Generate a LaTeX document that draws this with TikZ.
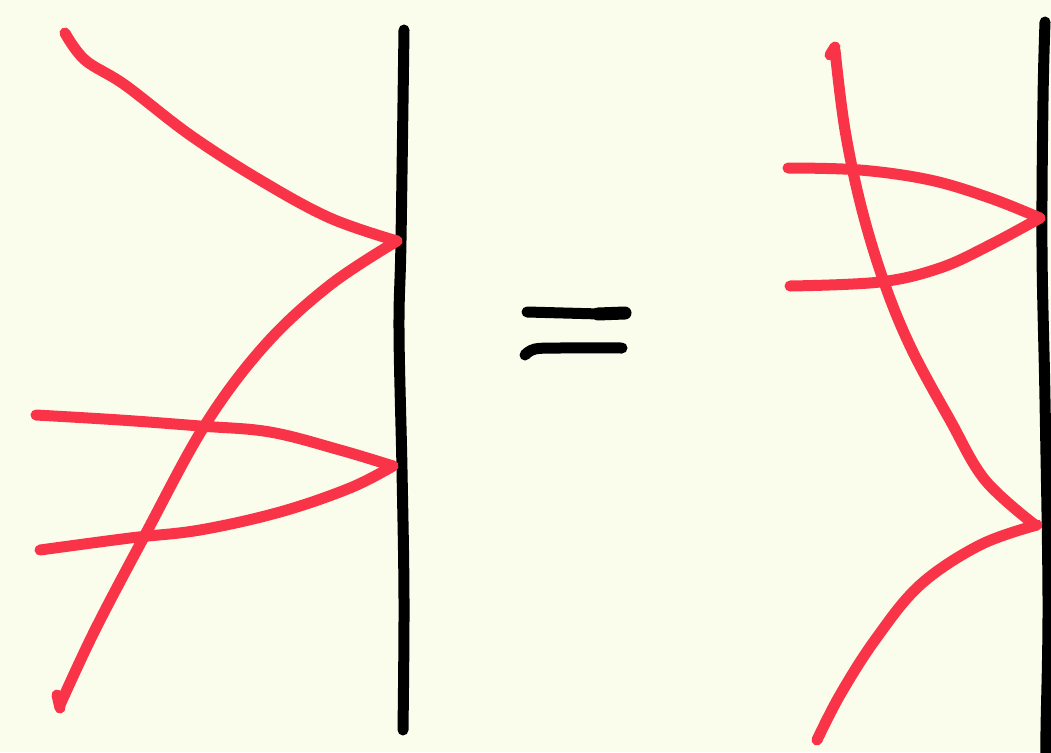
\documentclass[tikz,border=0pt]{standalone}
\usetikzlibrary{calc}
\definecolor{bg}{RGB}{250,253,235}
\definecolor{ink}{RGB}{250,52,72}
\tikzset{
  redline/.style={draw=ink,line width=11pt,line cap=round,line join=round},
  blackline/.style={draw=black,line width=11pt,line cap=round,line join=round},
}
\begin{document}
\begin{tikzpicture}[x=1pt,y=-1pt]
\fill[bg] (0,0) rectangle (1051,752);
\useasboundingbox (0,0) rectangle (1051,752);
% left wall
\draw[blackline] plot[smooth,tension=0.6] coordinates {(404,30) (401,240) (399,330) (402,470) (404,600) (403,730)};
\coordinate (j1) at (397,241);
\coordinate (j2) at (393,466);
\draw[redline] plot[smooth,tension=0.6] coordinates {(65,33) (85,60) (125,85) (190,135) (260,180) (330,218) (397,241)};
\draw[redline] plot[smooth,tension=0.6] coordinates {(397,241) (330,285) (265,345) (205,425) (145,535) (95,630) (60,705)};
\draw[redline] (57,695) -- (60,708);
\draw[redline] plot[smooth,tension=0.6] coordinates {(36,415) (120,420) (200,426) (270,432) (340,450) (393,466)};
\draw[redline] plot[smooth,tension=0.6] coordinates {(393,466) (350,488) (280,512) (200,530) (130,538) (40,550)};
% equals
\draw[blackline] (527,312) -- (600,314);
\draw[blackline,line width=13pt] (598,314) -- (625,313);
\draw[blackline] plot[smooth,tension=0.6] coordinates {(525,355) (535,349) (560,348) (622,348)};
% right wall
\draw[blackline] plot[smooth,tension=0.6] coordinates {(1045,22) (1043,100) (1042,250) (1045,400) (1048,600) (1046,730) (1046,760)};
\draw[redline] (830,55) -- (835,47);
\draw[redline] plot[smooth,tension=0.6] coordinates {(835,50) (845,130) (862,210) (885,285) (912,350) (950,420) (985,480) (1035,525)};
\draw[redline] plot[smooth,tension=0.6] coordinates {(1037,525) (980,545) (920,585) (875,640) (840,695) (817,740)};
\draw[redline] plot[smooth,tension=0.6] coordinates {(788,168) (860,170) (930,180) (990,198) (1040,218)};
\draw[redline] plot[smooth,tension=0.6] coordinates {(1040,218) (990,245) (940,268) (880,282) (790,286)};
\end{tikzpicture}
\end{document}
